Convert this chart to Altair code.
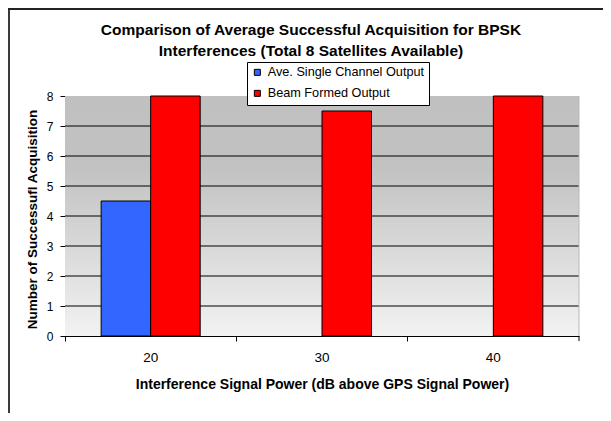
import altair as alt
import pandas as pd

categories = ["20", "30", "40"]
series_names = ["Ave. Single Channel Output", "Beam Formed Output"]
single_channel = [4.5, 0, 0]
beam_formed = [8, 7.5, 8]
y_ticks = [0, 1, 2, 3, 4, 5, 6, 7, 8]
grid_values = [1, 2, 3, 4, 5, 6, 7]
colors = ["#3366FF", "#FF0000"]
title_lines = [
    "Comparison of Average Successful Acquisition for BPSK",
    "Interferences (Total 8 Satellites Available)",
]
x_title = "Interference Signal Power (dB above GPS Signal Power)"
y_title = "Number of Successufl Acquisition"

W, H = 514, 240
PAD = {"left": 57, "top": 88, "right": 24, "bottom": 77}
FONT = "Liberation Sans"

rows = []
for i, c in enumerate(categories):
    rows.append({"cat": c, "series": series_names[0], "value": single_channel[i]})
    rows.append({"cat": c, "series": series_names[1], "value": beam_formed[i]})
bars_df = pd.DataFrame(rows)

x_scale = alt.Scale(domain=categories, paddingInner=0, paddingOuter=0)
y_scale = alt.Scale(domain=[0, 8], nice=False)

y_axis = alt.Axis(
    values=y_ticks,
    title=y_title,
    tickSize=5,
    labelPadding=7,
    grid=False,
    domainColor="black",
    tickColor="black",
    labelColor="black",
    labelFont=FONT,
    labelFontSize=12,
    titleFont=FONT,
    titleFontSize=13.5,
    titleFontWeight="bold",
    titleColor="black",
    titleX=-33,
    titleY=H / 2 + 3,
    titleAngle=270,
    titleAlign="center",
    titleBaseline="middle",
)

bg = alt.Chart(pd.DataFrame({"a": [0]})).mark_rect(
    color=alt.LinearGradient(
        gradient="linear",
        stops=[
            alt.GradientStop(offset=0, color="#c0c0c0"),
            alt.GradientStop(offset=0.3, color="#c2c2c2"),
            alt.GradientStop(offset=1, color="#f2f2f2"),
        ],
        x1=0, x2=0, y1=0, y2=1,
    )
).encode(x=alt.value(0), x2=alt.value(W), y=alt.value(0), y2=alt.value(H))

grid = alt.Chart(pd.DataFrame({"value": grid_values})).mark_rule(
    color="black", strokeWidth=1
).encode(
    y=alt.Y("value:Q", scale=y_scale, axis=y_axis),
    x=alt.value(0),
    x2=alt.value(W),
)

bars = alt.Chart(bars_df).mark_bar(strokeWidth=1).encode(
    x=alt.X(
        "cat:N",
        scale=x_scale,
        sort=categories,
        axis=alt.Axis(
            title=x_title,
            bandPosition=0,
            labelAngle=0,
            tickSize=5,
            labelPadding=9,
            domainColor="black",
            tickColor="black",
            labelColor="black",
            labelFont=FONT,
            labelFontSize=13.5,
            grid=False,
            titleFont=FONT,
            titleFontSize=14,
            titleFontWeight="bold",
            titleColor="black",
            titleX=W / 2,
            titleY=48,
            titleBaseline="middle",
            titleAlign="center",
        ),
    ),
    xOffset=alt.XOffset(
        "series:N",
        sort=series_names,
        scale=alt.Scale(paddingInner=0, paddingOuter=0.73),
    ),
    y=alt.Y("value:Q", scale=y_scale, axis=y_axis),
    stroke=alt.condition(alt.datum.value > 0, alt.value("black"), alt.value("transparent")),
    color=alt.Color(
        "series:N",
        scale=alt.Scale(domain=series_names, range=colors),
        legend=alt.Legend(
            title=None,
            orient="none",
            legendX=182,
            legendY=-34,
            strokeColor="black",
            fillColor="white",
            padding=4,
            rowPadding=7,
            symbolType="square",
            symbolSize=36,
            symbolStrokeColor="black",
            symbolStrokeWidth=1,
            labelFont=FONT,
            labelFontSize=12.7,
            labelColor="black",
            labelOffset=4,
        ),
    ),
)

end_tick = alt.Chart(pd.DataFrame({"a": [0]})).mark_rule(color="black").encode(
    x=alt.value(W), y=alt.value(H), y2=alt.value(H + 5)
)

right_edge = alt.Chart(pd.DataFrame({"a": [0]})).mark_rule(color="#b8b8b8").encode(
    x=alt.value(W), y=alt.value(0), y2=alt.value(H)
)

frame_left = alt.Chart(pd.DataFrame({"a": [0]})).mark_rule(
    color="#3a3a3a", strokeWidth=2
).encode(x=alt.value(-PAD["left"] + 1), y=alt.value(-PAD["top"]), y2=alt.value(H + PAD["bottom"]))

frame_top = alt.Chart(pd.DataFrame({"a": [0]})).mark_rule(
    color="#222222", strokeWidth=2
).encode(y=alt.value(-PAD["top"] + 1), x=alt.value(-PAD["left"]), x2=alt.value(W + PAD["right"]))

chart = alt.layer(bg, grid, bars, right_edge, end_tick, frame_left, frame_top).properties(
    width=W,
    height=H,
    padding=PAD,
    autosize=alt.AutoSizeParams(type="none"),
    title=alt.TitleParams(
        text=title_lines,
        font=FONT,
        fontSize=15.5,
        fontWeight="bold",
        color="black",
        anchor="middle",
        frame="group",
        lineHeight=21,
        dx=-11,
        dy=56,
        offset=4,
    ),
).configure_view(stroke=None)

chart.save("out.html", embed_options={"renderer": "svg", "actions": False})
